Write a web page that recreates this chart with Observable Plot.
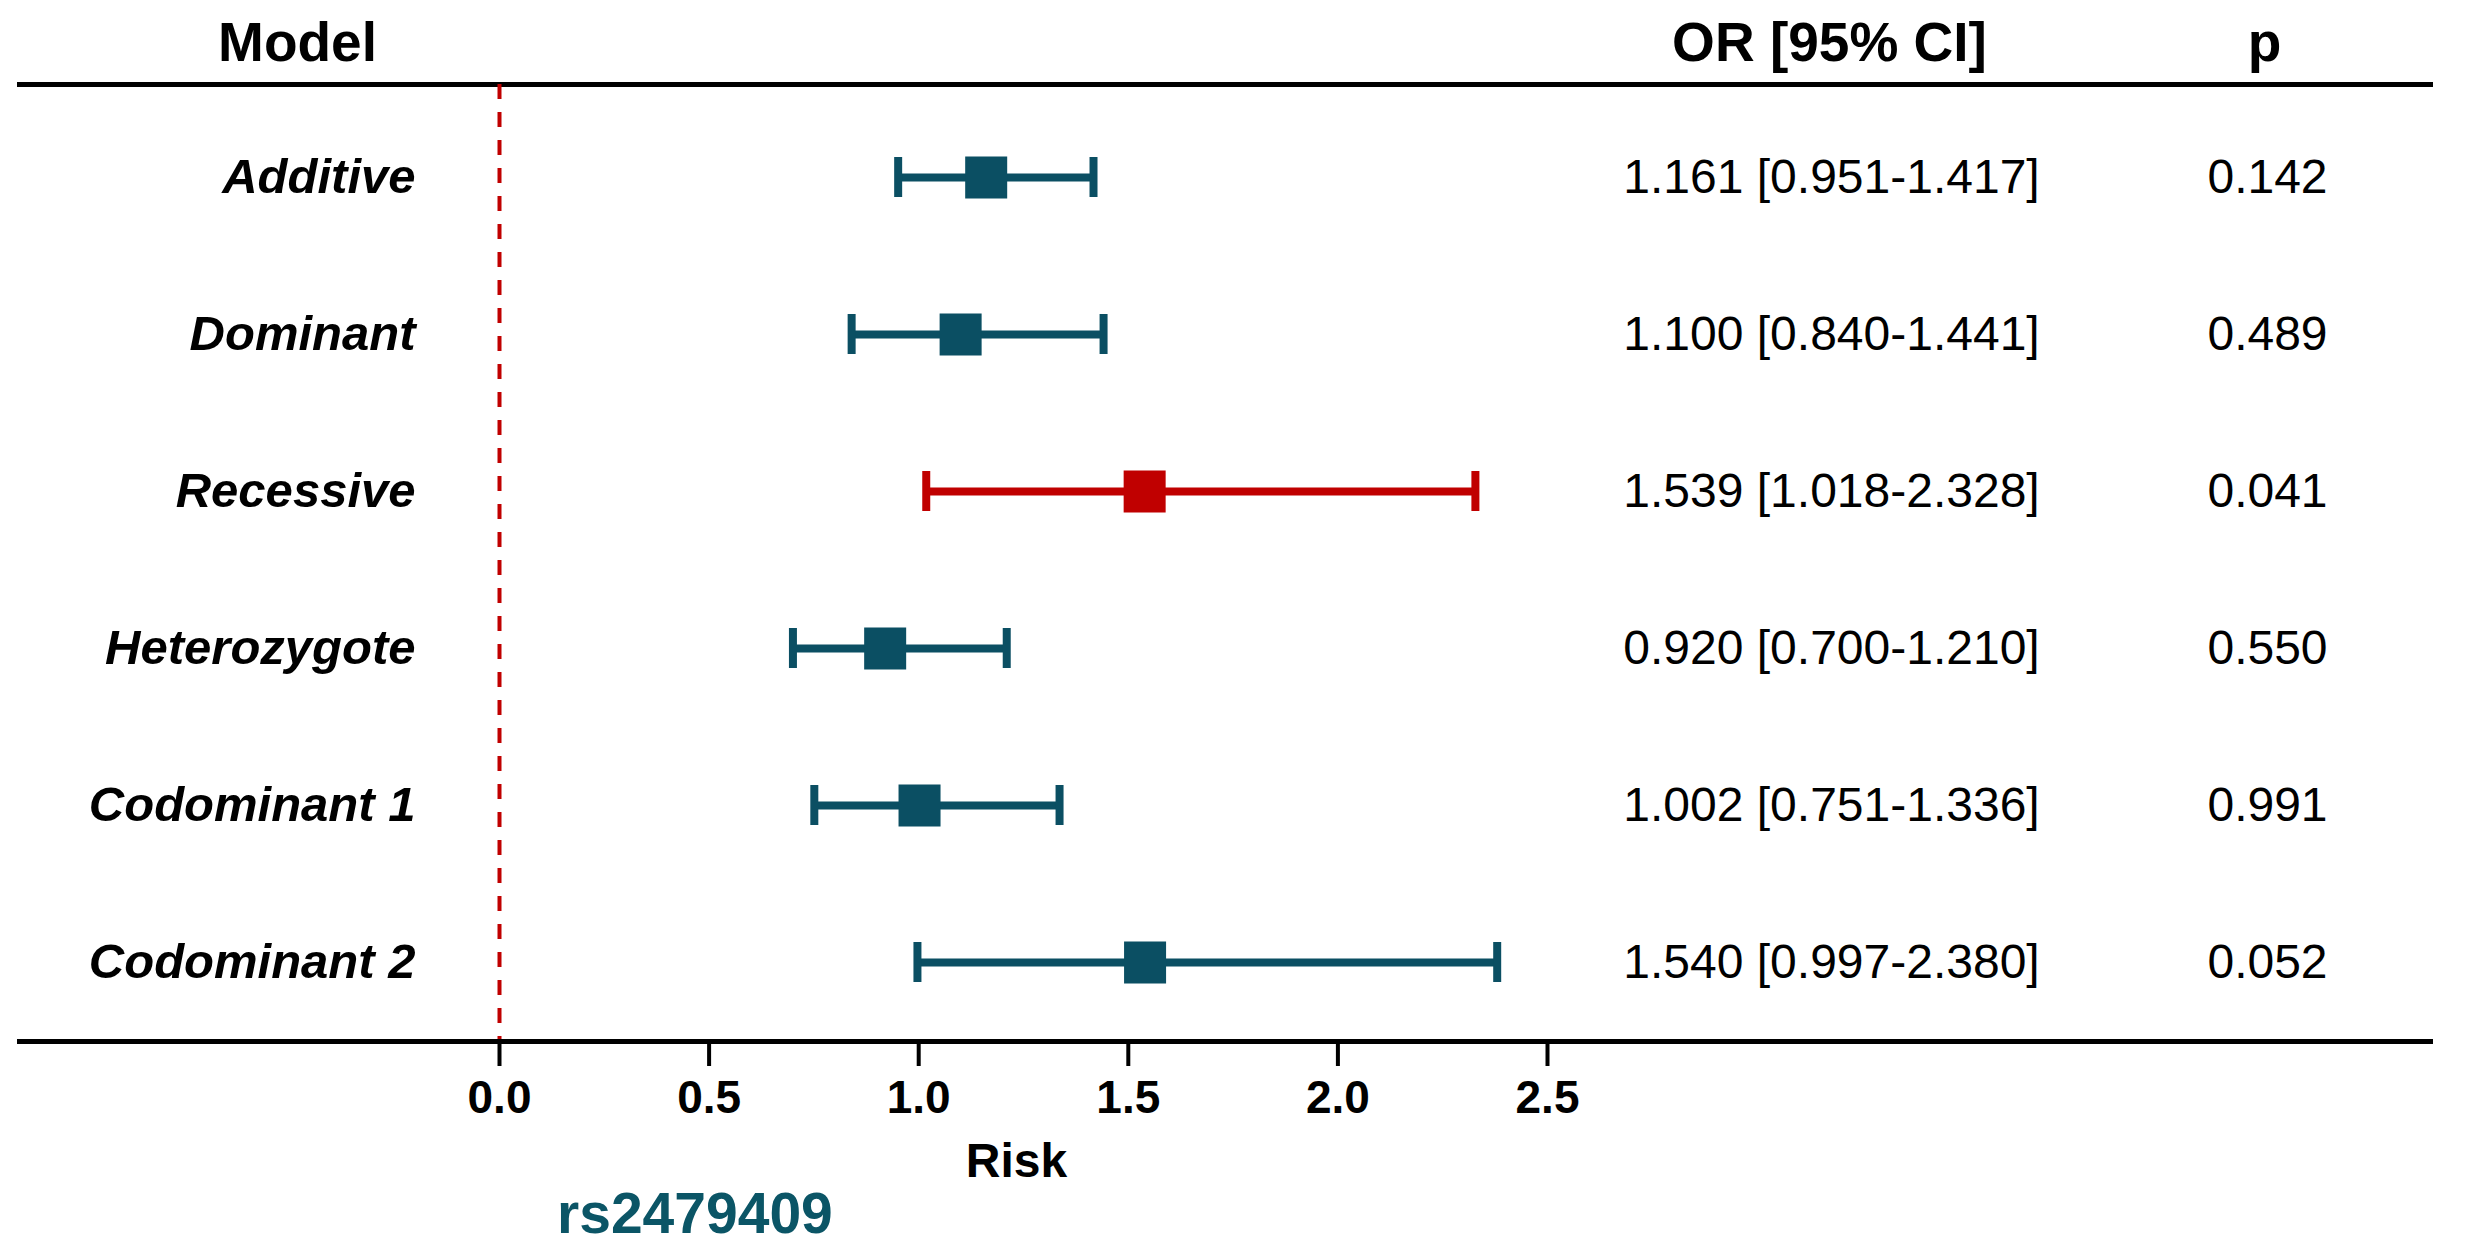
<!DOCTYPE html>
<html>
<head>
<meta charset="utf-8">
<script src="https://cdn.jsdelivr.net/npm/d3@7"></script>
<script src="https://cdn.jsdelivr.net/npm/@observablehq/plot@0.6"></script>
<style>
  html, body { margin: 0; padding: 0; background: #fff; }
  #wrap { position: relative; width: 2474px; height: 1254px; font-family: "Liberation Sans", Arial, sans-serif; }
  #caption { position: absolute; left: 557px; top: 1185px; line-height: 56px; font-size: 57px; font-weight: bold; color: #0b5566; }
</style>
</head>
<body>
<div id="wrap"></div>
<script>
const models = ["Additive", "Dominant", "Recessive", "Heterozygote", "Codominant 1", "Codominant 2"];
const oddsRatio = [1.161, 1.100, 1.539, 0.920, 1.002, 1.540];
const ciLower = [0.951, 0.840, 1.018, 0.700, 0.751, 0.997];
const ciUpper = [1.417, 1.441, 2.328, 1.210, 1.336, 2.380];
const pValues = [0.142, 0.489, 0.041, 0.550, 0.991, 0.052];
const xTicks = [0, 0.5, 1.0, 1.5, 2.0, 2.5];
const headerModel = "Model";
const headerOR = "OR [95% CI]";
const headerP = "p";
const xLabel = "Risk";
const captionText = "rs2479409";

const TEAL = "#0b4f63";
const RED = "#c00000";
const FONT = "'Liberation Sans', Arial, sans-serif";

const rows = models.map((m, i) => ({
  model: m,
  or: oddsRatio[i],
  lo: ciLower[i],
  hi: ciUpper[i],
  p: pValues[i],
  color: pValues[i] < 0.05 ? RED : TEAL,
  orText: `${oddsRatio[i].toFixed(3)} [${ciLower[i].toFixed(3)}-${ciUpper[i].toFixed(3)}]`,
  pText: pValues[i].toFixed(3)
}));

const chart = Plot.plot({
  width: 2474,
  height: 1185,
  marginTop: 84,
  marginBottom: 144,
  marginLeft: 19,
  marginRight: 44,
  style: { fontFamily: FONT, background: "#fff", color: "#000", overflow: "visible" },
  x: { domain: [0, 2.5], range: [499, 1547] },
  y: { type: "band", domain: models, paddingInner: 0.7465, paddingOuter: 0, insetTop: 71, insetBottom: 57, axis: null },
  color: { type: "identity" },
  marks: [
    Plot.frame({ anchor: "top", stroke: "#000", strokeWidth: 5 }),
    Plot.ruleX([0], { stroke: RED, strokeWidth: 4, strokeDasharray: "15,13" }),
    Plot.frame({ anchor: "bottom", stroke: "#000", strokeWidth: 5 }),
    Plot.axisX({
      ticks: xTicks, tickFormat: d => d.toFixed(1), tickSize: 25, tickPadding: 14,
      strokeWidth: 4, fontSize: 46, fontWeight: "bold", label: null
    }),
    Plot.text([xLabel], { text: d => d, frameAnchor: "bottom-left", dx: 997, dy: 120,
      textAnchor: "middle", lineAnchor: "middle", fontSize: 48, fontWeight: "bold", fill: "#000" }),
    Plot.ruleY(rows, { y: "model", x1: "lo", x2: "hi", stroke: "color", strokeWidth: 8 }),
    Plot.tickX(rows, { x: "lo", y: "model", stroke: "color", strokeWidth: 8 }),
    Plot.tickX(rows, { x: "hi", y: "model", stroke: "color", strokeWidth: 8 }),
    Plot.dot(rows, { x: "or", y: "model", symbol: "square", r: 23.7, fill: "color", stroke: null }),
    Plot.text(rows, { y: "model", text: "model", frameAnchor: "left", dx: 396, textAnchor: "end",
      fontSize: 49, fontWeight: "bold", fontStyle: "italic", fill: "#000" }),
    Plot.text(rows, { y: "model", text: "orText", frameAnchor: "left", dx: 1812, textAnchor: "middle",
      fontSize: 48, fill: "#000" }),
    Plot.text(rows, { y: "model", text: "pText", frameAnchor: "left", dx: 2248, textAnchor: "middle",
      fontSize: 48, fill: "#000" }),
    Plot.text([headerModel], { text: d => d, frameAnchor: "top-left", dx: 278, dy: -41,
      textAnchor: "middle", lineAnchor: "middle", fontSize: 55, fontWeight: "bold", fill: "#000" }),
    Plot.text([headerOR], { text: d => d, frameAnchor: "top-left", dx: 1810, dy: -41,
      textAnchor: "middle", lineAnchor: "middle", fontSize: 55, fontWeight: "bold", fill: "#000" }),
    Plot.text([headerP], { text: d => d, frameAnchor: "top-left", dx: 2245, dy: -41,
      textAnchor: "middle", lineAnchor: "middle", fontSize: 55, fontWeight: "bold", fill: "#000" })
  ]
});

const wrap = document.getElementById("wrap");
wrap.appendChild(chart);
const cap = document.createElement("div");
cap.id = "caption";
cap.textContent = captionText;
wrap.appendChild(cap);
</script>
</body>
</html>
